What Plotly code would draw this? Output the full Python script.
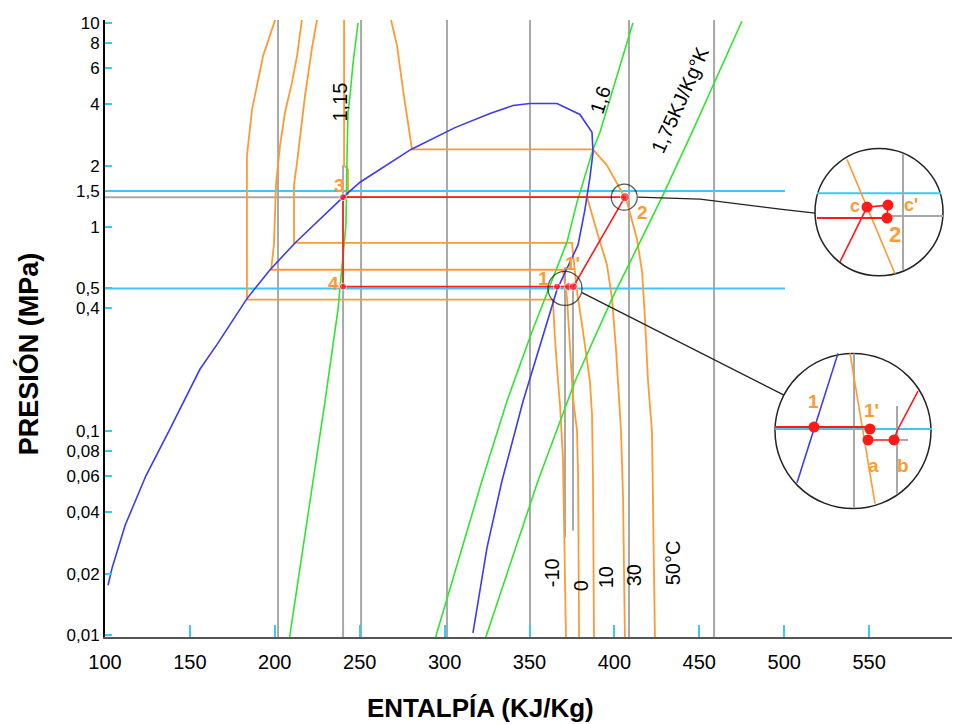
import numpy as np
import plotly.graph_objects as go

# ---------------- axis ticks ----------------
x_ticks = [100, 150, 200, 250, 300, 350, 400, 450, 500, 550, 600]
y_ticks = [10, 8, 6, 4, 2, 1.5, 1, 0.5, 0.4, 0.1, 0.08, 0.06, 0.04, 0.02, 0.01]
y_ticktext = ["10", "8", "6", "4", "2", "1,5", "1", "0,5", "0,4", "0,1",
              "0,08", "0,06", "0,04", "0,02", "0,01"]

# ---------------- saturation dome (h kJ/kg, P MPa) ----------------
dome_h = [101.8, 104.1, 111.8, 124.1, 138.3, 155.9, 166.0, 183.6, 197.2, 211.9,
          240.2, 250.2, 280.2, 306.1, 326.7, 340.3, 350.3, 366.2, 379.7, 386.8,
          387.4, 385.6, 382.7, 378.6, 366.2, 346.2, 333.8, 325.0, 316.7]
dome_P = [0.01754, 0.0212, 0.0344, 0.0603, 0.1023, 0.2007, 0.2658, 0.4455, 0.617, 0.835,
          1.40, 1.657, 2.40, 3.07, 3.60, 3.94, 4.03, 4.03, 3.56, 2.91,
          2.32, 1.754, 1.224, 0.817, 0.493, 0.140, 0.0570, 0.0269, 0.01023]

# ---------------- isotherms ----------------
iso_names = ["-10", "0", "10", "30", "50°C"]
iso_liq_h = [
    [200.3, 193.1, 186.6, 183.6, 183.6, 183.6],
    [216.0, 213.1, 210.1, 206.0, 203.1, 200.7, 199.5, 197.8],
    [224.9, 221.9, 217.8, 215.4, 213.1, 211.3, 211.3],
    [240.8, 240.8, 243.1, 243.1, 240.2],
    [268.4, 272.0, 275.5, 280.8],
]
iso_liq_P = [
    [10.4, 6.90, 3.76, 2.245, 1.603, 0.4405],
    [10.4, 6.90, 5.10, 3.64, 2.51, 1.62, 0.817, 0.617],
    [10.4, 7.55, 4.40, 2.91, 2.075, 1.603, 0.835],
    [10.4, 2.006, 1.918, 1.45, 1.40],
    [10.4, 7.72, 4.71, 2.40],
]
iso_vap_h = [
    [363.8, 365.0, 366.8, 368.0, 369.7, 371.5],
    [369.7, 372.1, 373.9, 375.6, 378.0, 378.6, 379.2],
    [375.0, 378.0, 381.5, 385.6, 386.8, 387.4, 388.0],
    [383.9, 389.8, 395.6, 398.6, 400.9, 402.7, 403.9, 405.1, 406.2],
    [387.4, 395.6, 402.1, 407.4, 413.3, 416.3, 418.0, 419.8, 422.1, 423.9],
]
iso_vap_P = [
    [0.4405, 0.284, 0.1753, 0.1324, 0.0738, 0.0095],
    [0.617, 0.4455, 0.254, 0.1449, 0.1, 0.0617, 0.0095],
    [0.835, 0.482, 0.3075, 0.1753, 0.121, 0.057, 0.0095],
    [1.40, 0.945, 0.653, 0.4455, 0.254, 0.1449, 0.1, 0.0471, 0.0095],
    [2.40, 2.006, 1.603, 1.324, 0.874, 0.603, 0.356, 0.1753, 0.1, 0.0095],
]
iso_label_h = [363.3, 380.3, 395.1, 411.5, 434.5]
iso_label_P = [0.0201, 0.0175, 0.0192, 0.0196, 0.0227]

# ---------------- isentropes ----------------
s_names = ["1,15", "1,6", "1,75KJ/Kg°K"]
s_h = [
    [208.5, 222.5, 229.6, 237.2, 238.4, 241.9, 242.5, 243.1, 244.3, 246.1, 249.0],
    [294.3, 322.0, 336.7, 351.5, 372.1, 378.0, 387.4, 391.5, 410.9],
    [323.8, 355.0, 376.8, 385.6, 398.6, 415.1, 428.6, 445.7, 475.1],
]
s_P = [
    [0.0095, 0.0570, 0.140, 0.3937, 0.498, 1.023, 2.147, 3.64, 4.40, 6.38, 10.0],
    [0.0095, 0.0570, 0.140, 0.3075, 0.845, 1.324, 2.40, 2.91, 10.0],
    [0.0095, 0.0570, 0.1753, 0.254, 0.4455, 0.845, 1.433, 2.91, 10.2],
]
s_label_h = [238.4, 391.5, 438.6]
s_label_P = [4.07, 4.21, 4.2]
s_label_angle = [-90, -72, -66]

# ---------------- refrigeration cycle ----------------
cycle_names = ["3", "4", "1", "1'", "", "2"]
cycle_h = [240.2, 240.2, 366.2, 372.9, 375.8, 406.2]
cycle_P = [1.40, 0.51, 0.51, 0.51, 0.51, 1.40]
cycle_label_h = [238.0, 234.3, 358.0, 375.6, None, 416.3]
cycle_label_P = [1.603, 0.527, 0.557, 0.66, None, 1.184]

# ---------------- reference lines ----------------
grid_h_full = [201.9, 250.8, 301.4, 350.3, 408.6, 458.7]
grid_h_part = [240.2, 370.9, 375.6]
grid_part_Ptop = [2.006, 0.634, 0.51]
grid_part_Pbot = [0.0095, 0.0301, 0.0325]
cond_line_P = 1.40
cond_line_h = [100, 240.2]
cyan_P = [1.5, 0.5]
cyan_h = [100, 500.5]

# zoom circles around states (center h, P, diameter px)
zoom_h = [405.8, 370.9]
zoom_P = [1.40, 0.50]
zoom_size = [26, 34]

# ---------------- magnified insets (drawing canvas units) ----------------
insetA_center = (879, 210); insetA_r = 64
insetB_center = (853, 430); insetB_r = 78
leaderA_x = [638, 700, 780, 815]; leaderA_y = [195, 197, 207, 211]
leaderB_x = [582, 784]; leaderB_y = [291, 394]

ORANGE = "#FF9A33"
GREEN = "#2EE62E"
BLUE = "#3B3BF2"
CYAN = "#3CC8F2"
GRAY = "#A8A8A8"
RED = "#FF1A1A"
FONT = "Liberation Sans, Arial, sans-serif"

fig = go.Figure()


def line(x, y, color, width=1.6, xa="x", ya="y", dash=None):
    fig.add_trace(go.Scatter(x=x, y=y, mode="lines", xaxis=xa, yaxis=ya,
                             line=dict(color=color, width=width, dash=dash),
                             hoverinfo="skip", showlegend=False))


# gray reference lines
for h in grid_h_full:
    line([h, h], [0.0095, 10.5], GRAY, 2)
for h, pt, pb in zip(grid_h_part, grid_part_Ptop, grid_part_Pbot):
    line([h, h], [pb, pt], GRAY, 2)
line(cond_line_h, [cond_line_P, cond_line_P], GRAY, 2)

# cyan pressure lines
for p in cyan_P:
    line(cyan_h, [p, p], CYAN, 2)

# isotherms
for lh, lp, vh, vp in zip(iso_liq_h, iso_liq_P, iso_vap_h, iso_vap_P):
    line(lh + vh, lp + vp, ORANGE, 1.8)

# isentropes
for hh, pp in zip(s_h, s_P):
    line(hh, pp, GREEN, 1.6)

# dome
line(dome_h, dome_P, BLUE, 1.6)

# cycle
line(cycle_h + [cycle_h[0]], cycle_P + [cycle_P[0]], RED, 1.6)
fig.add_trace(go.Scatter(x=cycle_h, y=cycle_P, mode="markers",
                         marker=dict(color=RED, size=[7, 7, 7, 8, 8, 9], symbol="circle"),
                         hoverinfo="skip", showlegend=False))
fig.add_trace(go.Scatter(x=zoom_h, y=zoom_P, mode="markers",
                         marker=dict(symbol="circle-open", size=zoom_size, color="#111",
                                     line=dict(width=1.3, color="#111")),
                         hoverinfo="skip", showlegend=False))

# leader lines & insets on overlay canvas
line(leaderA_x, leaderA_y, "#222", 1.3, "x2", "y2")
line(leaderB_x, leaderB_y, "#222", 1.3, "x2", "y2")

shapes = []
for (cx, cy), r in [(insetA_center, insetA_r), (insetB_center, insetB_r)]:
    shapes.append(dict(type="circle", xref="x2", yref="y2", x0=cx - r, x1=cx + r,
                       y0=cy - r, y1=cy + r, line=dict(color="#222", width=1.5),
                       fillcolor="white", layer="below"))

# inset A content
line([817, 941], [191, 191], CYAN, 2, "x2", "y2")
line([890, 943], [214, 214], GRAY, 2, "x2", "y2")
line([903, 903], [152, 268], GRAY, 2, "x2", "y2")
line([847, 895], [157, 272], ORANGE, 1.6, "x2", "y2")
line([817, 890], [216, 216], RED, 2, "x2", "y2")
line([840, 867, 888, 887], [260, 205, 203, 216], RED, 1.6, "x2", "y2")
fig.add_trace(go.Scatter(x=[867, 888, 887], y=[205, 203, 216], mode="markers",
                         xaxis="x2", yaxis="y2", marker=dict(color=RED, size=11),
                         hoverinfo="skip", showlegend=False))
# inset B content
line([775, 932], [428, 428], CYAN, 2, "x2", "y2")
line([854, 854], [352, 507], GRAY, 2, "x2", "y2")
line([897, 897], [405, 493], GRAY, 2, "x2", "y2")
line([894, 908], [439, 439], GRAY, 2, "x2", "y2")
line([850, 875], [352, 503], ORANGE, 1.6, "x2", "y2")
line([838, 797], [352, 482], BLUE, 1.6, "x2", "y2")
line([775, 868], [426, 426], RED, 2, "x2", "y2")
line([868, 894, 897, 918], [439, 439, 430, 390], RED, 1.6, "x2", "y2")
fig.add_trace(go.Scatter(x=[814, 870, 868, 894], y=[426, 428, 439, 439], mode="markers",
                         xaxis="x2", yaxis="y2", marker=dict(color=RED, size=11),
                         hoverinfo="skip", showlegend=False))

annotations = []


def label(x, y, text, size, color="black", angle=0, bold=False, xref="x", yref="y"):
    t = f"<b>{text}</b>" if bold else text
    annotations.append(dict(x=x, y=y, xref=xref, yref=yref, text=t, showarrow=False,
                            xanchor="center", yanchor="middle",
                            textangle=angle, font=dict(family=FONT, size=size, color=color)))


for n, h, p in zip(iso_names, iso_label_h, iso_label_P):
    label(h, np.log10(p), n, 20, angle=-90)
for n, h, p, a in zip(s_names, s_label_h, s_label_P, s_label_angle):
    label(h, np.log10(p), n, 20, angle=a)
for n, h, p in zip(cycle_names, cycle_label_h, cycle_label_P):
    if n:
        label(h, np.log10(p), n, 19, color=ORANGE, bold=True)

# inset labels
label(855, 204, "c", 18, ORANGE, bold=True, xref="x2", yref="y2")
label(911, 203, "c'", 18, ORANGE, bold=True, xref="x2", yref="y2")
label(895, 233, "2", 22, ORANGE, bold=True, xref="x2", yref="y2")
label(813, 400, "1", 19, ORANGE, bold=True, xref="x2", yref="y2")
label(871, 409, "1'", 19, ORANGE, bold=True, xref="x2", yref="y2")
label(873, 465, "a", 19, ORANGE, bold=True, xref="x2", yref="y2")
label(903, 465, "b", 19, ORANGE, bold=True, xref="x2", yref="y2")

# axis titles
label(0.4417, -0.1145, "ENTALPÍA (KJ/Kg)", 26, bold=True, xref="paper", yref="paper")
label(-0.0907, 0.46, "PRESIÓN (MPa)", 27, angle=-90, bold=True, xref="paper", yref="paper")

# page body adds an 8px offset; shrink figure so plot area lands at (105..954, 17..637)
fig.update_layout(
    width=952, height=716,
    margin=dict(l=97, r=6, t=9, b=87),
    paper_bgcolor="white", plot_bgcolor="white",
    showlegend=False,
    xaxis=dict(range=[100, 600], tickvals=x_ticks, ticks="inside", ticklen=12,
               tickwidth=2, tickcolor=CYAN, showline=True, linecolor="#555",
               linewidth=2, showgrid=False, zeroline=False, ticklabelstandoff=6,
               tickfont=dict(family=FONT, size=20, color="black")),
    yaxis=dict(type="log", range=[-2.0098, 1.0146], tickvals=y_ticks,
               ticktext=y_ticktext, ticks="inside", ticklen=7, tickwidth=2,
               tickcolor=CYAN, showline=True, linecolor="black", linewidth=2,
               showgrid=False, zeroline=False,
               tickfont=dict(family=FONT, size=17, color="black")),
    xaxis2=dict(overlaying="x", range=[105, 954], visible=False),
    yaxis2=dict(overlaying="y", range=[637, 17], visible=False),
    shapes=shapes,
    annotations=annotations,
)

fig.write_html("out.html")
